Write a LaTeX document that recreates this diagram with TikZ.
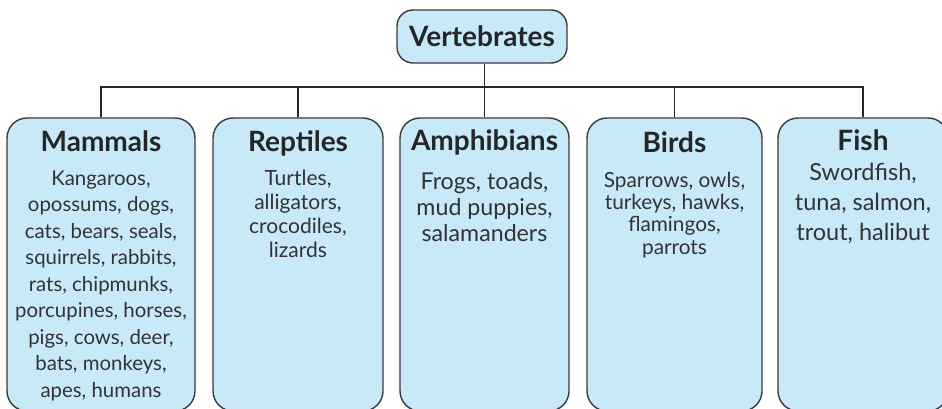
\documentclass[tikz,border=0pt]{standalone}
\usepackage{fontspec}
\setmainfont{Lato}
\definecolor{boxfill}{HTML}{C7E9F8}
\definecolor{boxline}{HTML}{3A3A3A}
\begin{document}
\begin{tikzpicture}[x=1pt,y=-1pt,
  catbox/.style={draw=boxline,line width=1.4pt,fill=boxfill,rounded corners=20pt,inner sep=0pt},
  title/.style={anchor=base,font=\fontsize{28}{32}\selectfont\bfseries,text=black!85},
  body/.style={anchor=base,align=center,text=black!80,inner sep=0pt},
  link/.style={draw=black!85,line width=1.6pt}]
\useasboundingbox (0,0) rectangle (942,409);
\begin{scope}
\clip (0,0) rectangle (942,409);
% top node
\node[catbox,rounded corners=16pt,minimum width=170pt,minimum height=53pt] (vert) at (482,36.5) {};
\node[title] (verttxt) at (482,46.7) {Vertebrates};
% category boxes
\node[catbox,minimum width=188pt,minimum height=293pt] (mam) at (101,264.5) {};
\node[catbox,minimum width=170pt,minimum height=293pt] (rep) at (298,264.5) {};
\node[catbox,minimum width=169pt,minimum height=293pt] (amp) at (484.5,264.5) {};
\node[catbox,minimum width=175pt,minimum height=293pt] (bir) at (674.5,264.5) {};
\node[catbox,minimum width=170pt,minimum height=293pt] (fis) at (863,264.5) {};
% titles
\node[title] (mamt) at (101,151) {Mammals};
\node[title] (rept) at (298,151) {Reptiles};
\node[title] (ampt) at (484.5,150.5) {Amphibians};
\node[title] (birt) at (674.5,153) {Birds};
\node[title] (fist) at (863,150) {Fish};
% bodies (anchor = baseline of last line)
\node[body,font=\fontsize{20.4}{26.5}\selectfont] (mamb) at (101,397) {Kangaroos,\\opossums, dogs,\\cats, bears, seals,\\squirrels, rabbits,\\rats, chipmunks,\\porcupines, horses,\\pigs, cows, deer,\\bats, monkeys,\\apes, humans};
\node[body,font=\fontsize{21}{23.7}\selectfont] (repb) at (298,257) {Turtles,\\alligators,\\crocodiles,\\lizards};
\node[body,font=\fontsize{23.2}{26}\selectfont] (ampb) at (484.5,241) {Frogs, toads,\\mud puppies,\\salamanders};
\node[body,font=\fontsize{20.8}{22.3}\selectfont] (birb) at (674.5,254) {Sparrows, owls,\\turkeys, hawks,\\flamingos,\\parrots};
\node[body,font=\fontsize{23.5}{30}\selectfont] (fisb) at (863,240) {Swordfish,\\tuna, salmon,\\trout, halibut};
% connectors
\coordinate (bus) at (0,87);
\draw[link] (vert.south -| amp.north) -- (amp.north);
\draw[link] (mam.north) -- (mam.north |- bus) -- (fis.north |- bus) -- (fis.north);
\draw[link] (rep.north) -- (rep.north |- bus);
\draw[link] (bir.north) -- (bir.north |- bus);
\end{scope}
\end{tikzpicture}
\end{document}
